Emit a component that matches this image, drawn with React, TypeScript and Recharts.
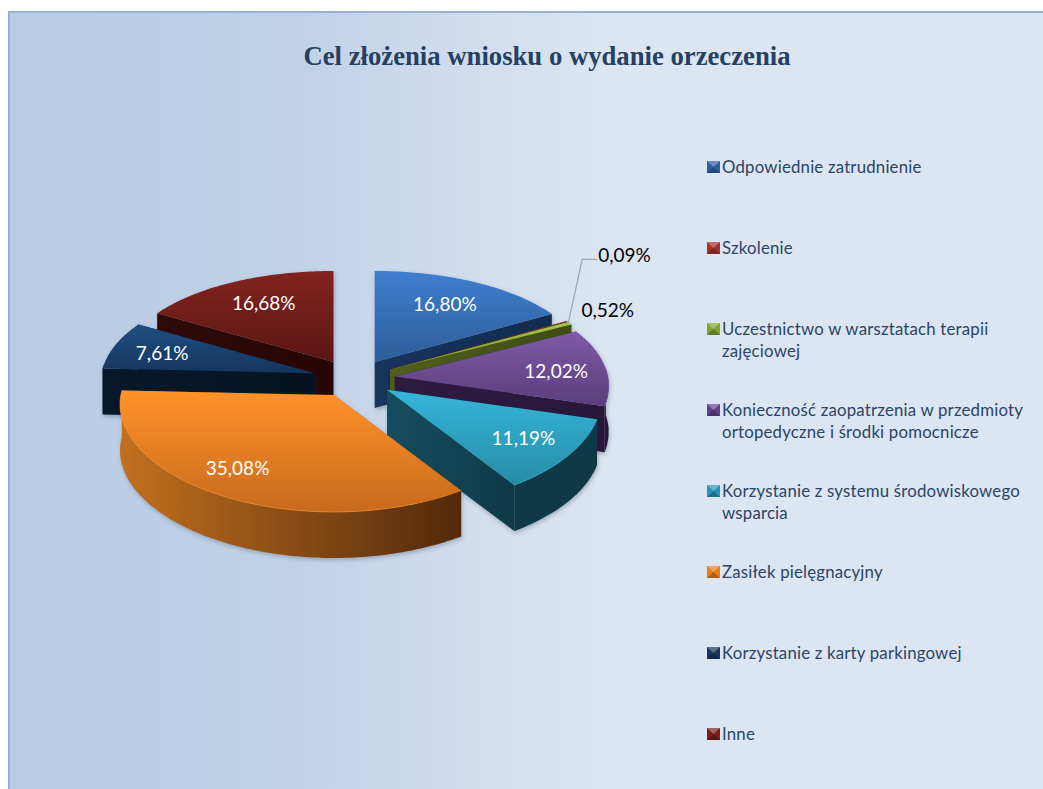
import React from "react";
import { PieChart, Pie, Legend } from "recharts";

const categories = [
  "Odpowiednie zatrudnienie",
  "Szkolenie",
  "Uczestnictwo w warsztatach terapii zajęciowej",
  "Konieczność zaopatrzenia w przedmioty ortopedyczne i środki pomocnicze",
  "Korzystanie z systemu środowiskowego wsparcia",
  "Zasiłek pielęgnacyjny",
  "Korzystanie z karty parkingowej",
  "Inne",
];
const shares = [16.8, 0.09, 0.52, 12.02, 11.19, 35.08, 7.61, 16.68];

// top face gradient, side wall gradient, legend colour
const topLight = ["#3E7FCF", "#C0504D", "#A4C445", "#8059A8", "#36B5D9", "#FF9329", "#1F4E82", "#822320"];
const topDark = ["#2E5D99", "#8E2F2C", "#7F9A33", "#5B3D7C", "#268CA7", "#C86A1D", "#15355E", "#5C1614"];
const wallLight = ["#183560", "#4A1513", "#4F5F1B", "#2E1C40", "#164E5F", "#C2701F", "#07182A", "#2E0A08"];
const wallDark = ["#132B4E", "#3A100E", "#3F4C15", "#27173A", "#0F3947", "#52290A", "#051320", "#260705"];
const legendColors = ["#2F5E9E", "#A5302C", "#84A332", "#643F8C", "#2A93B5", "#E67E1E", "#17375E", "#7B1E1B"];

// white labels inside the slices, black ones outside
const labelColors = ["#fff", "#000", "#000", "#fff", "#fff", "#fff", "#fff", "#fff"];
const labelNudge = [
  [-2, 0],
  [31, -67],
  [38, -14],
  [8, 1],
  [4, 0],
  [-14, -1],
  [-7, 0],
  [2, -1],
];

const table = categories.map((name, i) => ({
  id: i,
  name,
  value: shares[i],
  fill: legendColors[i],
}));

// painter's order: back slices first, the front ones on top
const layers = [[7], [6], [0, 1, 2, 3, 4, 5]];

const EXPLODE = 41;
const DEPTH = 46;
const RAD = Math.PI / 180;

// angle is clockwise from 12 o'clock, back of the pie is squeezed more than the front
const rimOffset = (theta: number, radius: number, f = 1) => {
  const u = Math.cos(theta * RAD);
  const s = Math.sin(theta * RAD);
  return {
    x: radius * (1 - 0.09 * u) * s * f,
    y: -radius * (0.488 - 0.0606 * u) * u * f,
  };
};

const apexOf = (cx: number, cy: number, mid: number) => ({
  x: cx + EXPLODE * Math.sin(mid * RAD),
  y: cy - EXPLODE * 0.465 * Math.cos(mid * RAD),
});

const toPath = (pts: { x: number; y: number }[]) =>
  pts.map((p, i) => `${i ? "L" : "M"}${p.x.toFixed(1)} ${p.y.toFixed(1)}`).join(" ") + " Z";

const drawSlice = (p: any, layer: number[]) => {
  const id = p.payload?.id ?? p.id;
  if (!layer.includes(id)) return <g />;
  const start = 90 - p.startAngle;
  const end = 90 - p.endAngle;
  const mid = (start + end) / 2;
  const apex = apexOf(p.cx, p.cy, mid);

  const rim: { x: number; y: number }[] = [];
  for (let t = start; t < end; t += 1) {
    const o = rimOffset(t, p.outerRadius);
    rim.push({ x: apex.x + o.x, y: apex.y + o.y });
  }
  const last = rimOffset(end, p.outerRadius);
  rim.push({ x: apex.x + last.x, y: apex.y + last.y });

  const down = (q: { x: number; y: number }) => ({ x: q.x, y: q.y + DEPTH });
  const first = rim[0];
  const final = rim[rim.length - 1];
  const front = rim.filter((_, i) => {
    const t = Math.min(start + i, end);
    return t >= 85 && t <= 275;
  });

  return (
    <g style={{ filter: "drop-shadow(1px 2px 2px rgba(40,50,70,0.3))" }}>
      <path d={toPath([apex, first, down(first), down(apex)])} fill={`url(#wall${id})`} />
      <path d={toPath([apex, final, down(final), down(apex)])} fill={`url(#wall${id})`} />
      {front.length > 1 && (
        <path
          d={toPath([...front, ...front.map(down).reverse()])}
          fill={id === 5 ? `url(#wall${id})` : wallDark[id]}
        />
      )}
      <path d={toPath([apex, ...rim])} fill={`url(#top${id})`} />
      {front.length > 1 && (
        <path
          d={front.map((q, i) => `${i ? "L" : "M"}${q.x.toFixed(1)} ${q.y.toFixed(1)}`).join(" ")}
          fill="none"
          stroke={topLight[id]}
          strokeOpacity={0.6}
          strokeWidth={1}
        />
      )}
    </g>
  );
};

const renderLabel = (p: any) => {
  const id = p.payload?.id ?? p.id;
  const mid = 90 - p.midAngle;
  const apex = apexOf(p.cx, p.cy, mid);
  const outside = labelColors[id] === "#000";
  const o = rimOffset(mid, p.outerRadius, outside ? 1 : 0.73);
  const x = apex.x + o.x + labelNudge[id][0];
  const y = apex.y + o.y + labelNudge[id][1];
  const text = p.value.toFixed(2).replace(".", ",") + "%";
  return (
    <g>
      {id === 1 && (
        <polyline
          points={`${x - 30},${y + 69} ${x - 16},${y + 5} ${x - 1},${y + 5}`}
          fill="none"
          stroke="#A6A6A6"
          strokeWidth={1.3}
        />
      )}
      <text
        x={x}
        y={y}
        fill={labelColors[id]}
        textAnchor={id === 1 ? "start" : "middle"}
        dominantBaseline="central"
        fontFamily="Lato"
        fontSize={19}
      >
        {text}
      </text>
    </g>
  );
};

const renderLegend = ({ payload }: any) => {
  // every Pie reports its sectors, keep one entry per category
  const items = (payload || []).filter(
    (item: any, i: number, all: any[]) => all.findIndex((o) => o.value === item.value) === i,
  );
  return (
    <div>
      {items.map((item: any) => (
        <div
          key={item.value}
          style={{ height: 81, display: "flex", alignItems: "flex-start", width: 320 }}
        >
          <svg width={15} height={22} style={{ flex: "none" }}>
            <rect x={0} y={5} width={13} height={12} fill={item.color} />
            <path d="M0 5 H13 L6.5 11 Z" fill="#fff" opacity={0.3} />
            <path d="M0 17 H13 L6.5 11 Z" fill="#000" opacity={0.25} />
          </svg>
          <span
            style={{
              fontFamily: "Lato",
              fontSize: 16.8,
              lineHeight: "22px",
              color: "#2A4467",
              letterSpacing: 0.2,
              width: 308,
            }}
          >
            {item.value}
          </span>
        </div>
      ))}
    </div>
  );
};

const App = () => (
  <div style={{ position: "absolute", left: 0, top: 0, width: 1043, height: 789, overflow: "hidden", background: "#fff" }}>
    <div
      style={{
        position: "absolute",
        left: 8,
        top: 11,
        width: 1035,
        height: 778,
        boxSizing: "border-box",
        borderTop: "2px solid #95B3D7",
        borderLeft: "2px solid #95B3D7",
        background: "linear-gradient(90deg, #B8CCE4 0%, #C1D2E7 28%, #DCE6F2 58%, #DCE6F2 100%)",
      }}
    />
    <div
      style={{
        position: "absolute",
        left: 8,
        width: 1078,
        top: 41,
        textAlign: "center",
        fontFamily: "Liberation Serif",
        fontWeight: "bold",
        fontSize: 26.7,
        lineHeight: "30px",
        color: "#254061",
      }}
    >
      Cel złożenia wniosku o wydanie orzeczenia
    </div>
    <div style={{ position: "absolute", left: 0, top: 0 }}>
      <PieChart width={1043} height={789} margin={{ top: 0, right: 0, bottom: 0, left: 0 }}>
        <defs>
          {categories.map((_, i) => (
            <React.Fragment key={i}>
              <linearGradient id={`top${i}`} x1="0" y1="0" x2="0" y2="1">
                <stop offset="0%" stopColor={topLight[i]} />
                <stop offset="100%" stopColor={topDark[i]} />
              </linearGradient>
              <linearGradient id={`wall${i}`} x1="0" y1="0" x2="1" y2="0">
                <stop offset="0%" stopColor={wallLight[i]} />
                <stop offset="100%" stopColor={wallDark[i]} />
              </linearGradient>
            </React.Fragment>
          ))}
        </defs>
        {layers.map((layer, n) => (
          <Pie
            key={n}
            data={table}
            dataKey="value"
            nameKey="name"
            cx={354}
            cy={378.5}
            outerRadius={213}
            startAngle={90}
            endAngle={-270}
            stroke="none"
            legendType={n === 0 ? "rect" : "none"}
            shape={(p: any) => drawSlice(p, layer)}
            isAnimationActive={false}
          />
        ))}
        <Pie
          data={table}
          dataKey="value"
          nameKey="name"
          cx={354}
          cy={378.5}
          outerRadius={213}
          startAngle={90}
          endAngle={-270}
          stroke="none"
          legendType="none"
          shape={() => <g />}
          label={renderLabel}
          labelLine={false}
          isAnimationActive={false}
        />
        <Legend
          layout="vertical"
          content={renderLegend}
          itemSorter={null}
          wrapperStyle={{ left: 707, top: 156, width: 326, bottom: "auto", right: "auto" }}
        />
      </PieChart>
    </div>
  </div>
);

export default App;
